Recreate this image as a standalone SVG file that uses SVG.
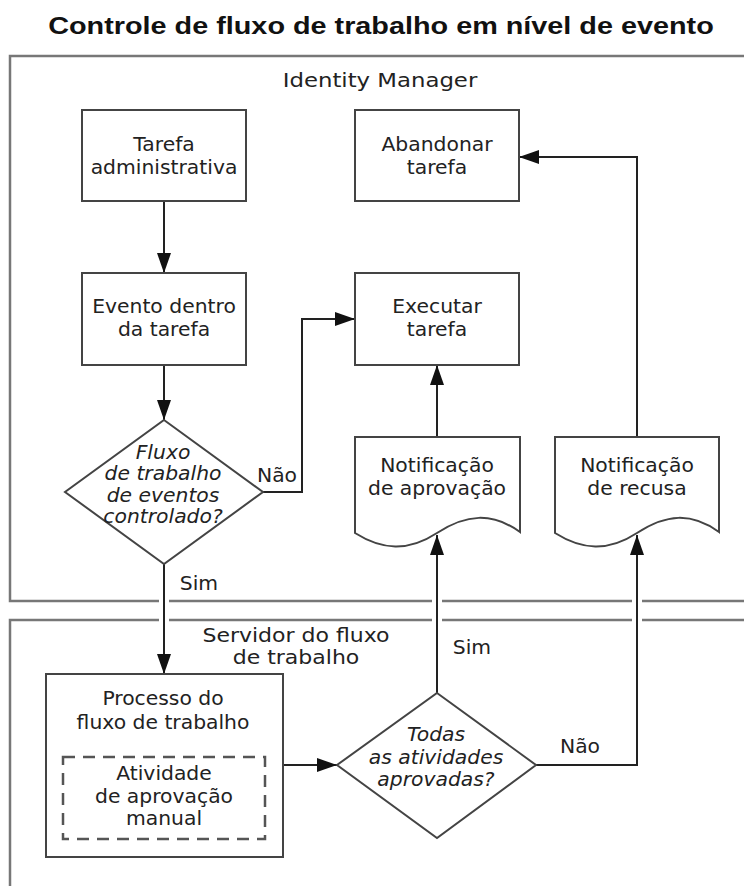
<svg xmlns="http://www.w3.org/2000/svg" width="744" height="886" viewBox="0 0 744 886">
  <defs>
    <marker id="arrow" markerUnits="userSpaceOnUse" markerWidth="20" markerHeight="14" refX="20" refY="7" orient="auto">
      <path d="M0,0 L20,7 L0,14 Z" fill="#111"/>
    </marker>
    <style>
      .title { font-family: "Liberation Sans", Arial, sans-serif; font-weight: bold; font-size: 24px; fill: #111; text-anchor: middle; }
      .lane-title { font-family: "DejaVu Sans", Verdana, sans-serif; font-size: 20px; fill: #222; text-anchor: middle; }
      .t { font-family: "DejaVu Sans", Verdana, sans-serif; font-size: 19px; fill: #222; text-anchor: middle; }
      .ti { font-family: "DejaVu Sans", Verdana, sans-serif; font-size: 19px; font-style: italic; fill: #222; text-anchor: middle; }
      .lbl { font-family: "DejaVu Sans", Verdana, sans-serif; font-size: 19px; fill: #222; text-anchor: middle; }
      .lane { fill: none; stroke: #777; stroke-width: 2.5; }
      .box { fill: #fff; stroke: #444; stroke-width: 2; }
      .dash { fill: none; stroke: #555; stroke-width: 2.5; stroke-dasharray: 12 8; }
      .conn { fill: none; stroke: #222; stroke-width: 2; }
    </style>
  </defs>

  <rect width="744" height="886" fill="#fff"/>

  <text class="title" transform="translate(381 0) scale(1.2 1)" y="34">Controle de fluxo de trabalho em nível de evento</text>

  <!-- swimlanes, broken where connectors cross -->
  <g id="lane-identity-manager">
    <path class="lane" d="M744,56 H10 V601 H159 M169,601 H432 M442,601 H632 M642,601 H744"/>
    <text class="lane-title" transform="translate(380 0) scale(1.14 1)" y="87">Identity Manager</text>
  </g>
  <g id="lane-workflow-server">
    <path class="lane" d="M744,620 H642 M632,620 H442 M432,620 H169 M159,620 H10 V886"/>
    <text class="lane-title" transform="translate(296 0) scale(1.1 1)" y="642">Servidor do fluxo<tspan x="0" dy="22">de trabalho</tspan></text>
  </g>

  <!-- connectors -->
  <g id="connectors">
    <path class="conn" d="M164,201 V273" marker-end="url(#arrow)"/>
    <path class="conn" d="M164,365 V420" marker-end="url(#arrow)"/>
    <path class="conn" d="M263,492 H302 V319 H355" marker-end="url(#arrow)"/>
    <path class="conn" d="M164,564 V674" marker-end="url(#arrow)"/>
    <path class="conn" d="M283,765 H337" marker-end="url(#arrow)"/>
    <path class="conn" d="M437,693 V535" marker-end="url(#arrow)"/>
    <path class="conn" d="M437,437 V365" marker-end="url(#arrow)"/>
    <path class="conn" d="M536,765 H637 V535" marker-end="url(#arrow)"/>
    <path class="conn" d="M637,437 V157 H519" marker-end="url(#arrow)"/>
    <text class="lbl" transform="translate(277 0) scale(1.07 1)" y="482">Não</text>
    <text class="lbl" transform="translate(199 0) scale(1.07 1)" y="590">Sim</text>
    <text class="lbl" transform="translate(472 0) scale(1.07 1)" y="654">Sim</text>
    <text class="lbl" transform="translate(580 0) scale(1.07 1)" y="753">Não</text>
  </g>

  <g id="tarefa-administrativa">
    <rect class="box" x="82" y="110" width="164" height="91"/>
    <text class="t" transform="translate(164 0) scale(1.07 1)" y="151">Tarefa<tspan x="0" dy="23">administrativa</tspan></text>
  </g>

  <g id="abandonar-tarefa">
    <rect class="box" x="355" y="110" width="164" height="91"/>
    <text class="t" transform="translate(437 0) scale(1.07 1)" y="151">Abandonar<tspan x="0" dy="23">tarefa</tspan></text>
  </g>

  <g id="evento-dentro-da-tarefa">
    <rect class="box" x="82" y="273" width="164" height="92"/>
    <text class="t" transform="translate(164 0) scale(1.07 1)" y="313">Evento dentro<tspan x="0" dy="23">da tarefa</tspan></text>
  </g>

  <g id="executar-tarefa">
    <rect class="box" x="355" y="273" width="164" height="92"/>
    <text class="t" transform="translate(437 0) scale(1.07 1)" y="313">Executar<tspan x="0" dy="23">tarefa</tspan></text>
  </g>

  <g id="fluxo-controlado">
    <path class="box" d="M164,420 L263,492 L164,564 L65,492 Z"/>
    <text class="ti" transform="translate(163 0) scale(1.07 1)" y="459">Fluxo<tspan x="0" dy="21.5">de trabalho</tspan><tspan x="0" dy="21.5">de eventos</tspan><tspan x="0" dy="21.5">controlado?</tspan></text>
  </g>

  <g id="notificacao-aprovacao">
    <path class="box" d="M355,437 H520 V532 C492,512 466,514 437,533 C408,552 382,550 355,533 Z"/>
    <text class="t" transform="translate(437 0) scale(1.07 1)" y="472">Notificação<tspan x="0" dy="23">de aprovação</tspan></text>
  </g>

  <g id="notificacao-recusa">
    <path class="box" d="M555,437 H719 V532 C691,512 666,514 637,533 C608,552 582,550 555,533 Z"/>
    <text class="t" transform="translate(637 0) scale(1.07 1)" y="472">Notificação<tspan x="0" dy="23">de recusa</tspan></text>
  </g>

  <g id="processo-fluxo-trabalho">
    <rect class="box" x="46" y="674" width="237" height="183"/>
    <text class="t" transform="translate(163 0) scale(1.07 1)" y="705">Processo do<tspan x="0" dy="24">fluxo de trabalho</tspan></text>
    <g id="atividade-aprovacao-manual">
      <rect class="dash" x="63" y="757" width="202" height="82"/>
      <text class="t" transform="translate(164 0) scale(1.07 1)" y="780">Atividade<tspan x="0" dy="23">de aprovação</tspan><tspan x="0" dy="22">manual</tspan></text>
    </g>
  </g>

  <g id="atividades-aprovadas">
    <path class="box" d="M437,693 L536,765 L437,838 L337,765 Z"/>
    <text class="ti" transform="translate(436 0) scale(1.07 1)" y="741">Todas<tspan x="0" dy="23">as atividades</tspan><tspan x="0" dy="22">aprovadas?</tspan></text>
  </g>
</svg>
